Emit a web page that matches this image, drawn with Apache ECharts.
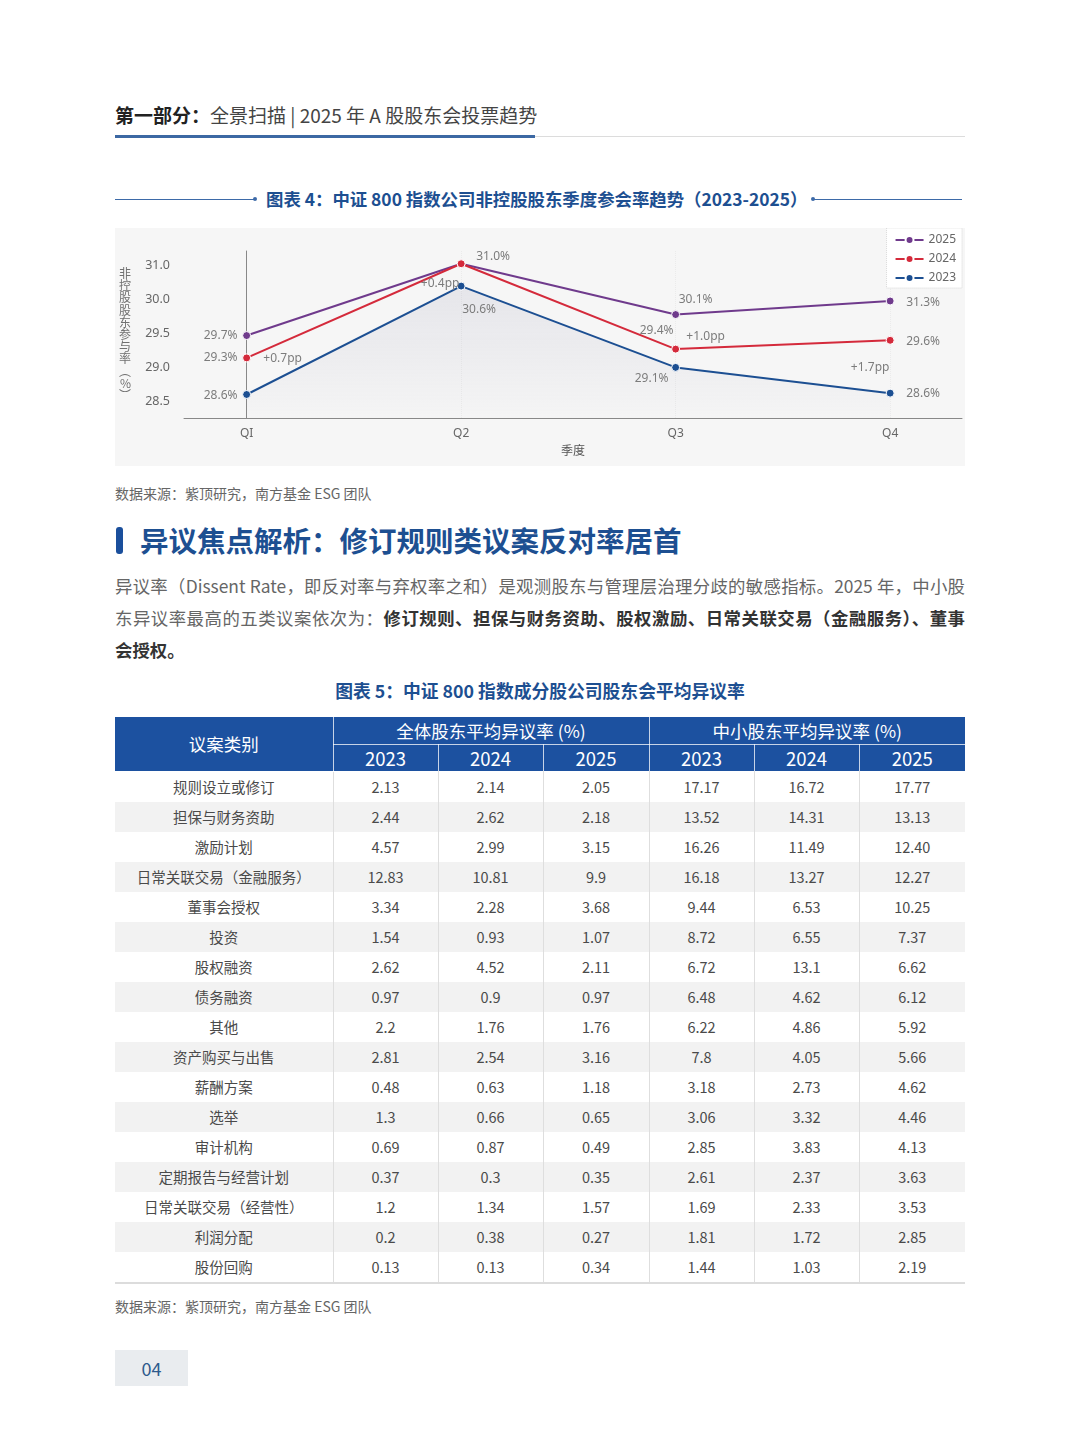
<!DOCTYPE html>
<html>
<head>
<meta charset="utf-8">
<script src="https://cdn.jsdelivr.net/npm/echarts@6.0.0/dist/echarts.min.js"></script>
<style>
  html, body { margin: 0; padding: 0; background: #fff; }
  body { width: 1080px; height: 1455px; position: relative; overflow: hidden;
         font-family: "Noto Sans CJK SC", "Noto Sans", sans-serif; color: #444; }
  .abs { position: absolute; }
  #head { left: 115px; top: 101px; font-size: 19px; color: #444; white-space: nowrap; }
  #head b { color: #222; }
  #headLineBlue { left: 115px; top: 135px; width: 420px; height: 3px; background: #3c68a3; }
  #headLineGray { left: 535px; top: 136px; width: 430px; height: 1px; background: #dcdcdc; }
  .ctitle { color: #1d4f91; font-weight: bold; font-size: 17.4px; white-space: nowrap; }
  .tline { height: 1px; background: #3d6aa8; }
  .tdot { width: 4px; height: 4px; border-radius: 2px; background: #3d6aa8; }
  #chartBox { left: 115px; top: 228px; width: 850px; height: 238px; background: #f6f6f6; }
  #chart { width: 850px; height: 238px; }
  .src { left: 115px; font-size: 14px; color: #666; white-space: nowrap; }
  #secBar { left: 116px; top: 527px; width: 7px; height: 27px; border-radius: 3px; background: #1a4f9c; }
  #secTitle { left: 140px; top: 520px; font-size: 28.5px; font-weight: bold; color: #1d4f91; white-space: nowrap; line-height: 40px; }
  #para { left: 115px; top: 570px; width: 850px; font-size: 17.4px; color: #666; line-height: 32px; }
  #para div { text-align: justify; text-align-last: justify; height: 32px; white-space: nowrap; }
  #para div.last { text-align-last: left; }
  #para b { color: #333; }
  #tbl { left: 115px; top: 717px; width: 850px; border-collapse: collapse; table-layout: fixed; }
  #tbl th { background: #1c51a0; color: #fff; font-weight: normal; padding: 0; text-align: center;
            border: 1px solid rgba(255,255,255,0.75); border-top: none; }
  #tbl tr.h1 th { height: 27px; font-size: 17.5px; }
  #tbl tr.h2 th { height: 26px; font-size: 18.5px; border-bottom: none; }
  #tbl th.first { font-size: 17.5px; border-left: none; }
  #tbl th.lastc { border-right: none; }
  #tbl td { height: 30px; padding: 0; text-align: center; font-size: 14.5px; color: #4a4a4a;
            border-left: 1px solid #dedede; border-right: 1px solid #dedede; }
  #tbl td:first-child { border-left: none; }
  #tbl td:last-child { border-right: none; }
  #tbl tr.alt td { background: #f2f2f2; }
  #tbl tr.end td { border-bottom: 2px solid #dcdcdc; }
  #pageNo { left: 115px; top: 1350px; width: 73px; height: 36px; background: #e9ecef;
            color: #2d5a8c; font-size: 18px; text-align: center; line-height: 36px; }
</style>
</head>
<body>
<div id="head" class="abs"><b>第一部分：</b>全景扫描 | 2025 年 A 股股东会投票趋势</div>
<div id="headLineBlue" class="abs"></div>
<div id="headLineGray" class="abs"></div>

<div class="abs tline" style="left:115px;top:199px;width:140px;"></div>
<div class="abs tdot" style="left:253px;top:197px;"></div>
<div class="abs ctitle" style="left:266px;top:186px;">图表 4：中证 800 指数公司非控股股东季度参会率趋势（2023-2025）</div>
<div class="abs tdot" style="left:811px;top:197px;"></div>
<div class="abs tline" style="left:813px;top:199px;width:149px;"></div>

<div id="chartBox" class="abs"><div id="chart"></div></div>
<div class="abs src" style="top:483px;">数据来源：紫顶研究，南方基金 ESG 团队</div>

<div id="secBar" class="abs"></div>
<div id="secTitle" class="abs">异议焦点解析：修订规则类议案反对率居首</div>
<div id="para" class="abs">
  <div>异议率（Dissent Rate，即反对率与弃权率之和）是观测股东与管理层治理分歧的敏感指标。2025 年，中小股</div>
  <div>东异议率最高的五类议案依次为：<b>修订规则、担保与财务资助、股权激励、日常关联交易（金融服务）、董事</b></div>
  <div class="last"><b>会授权。</b></div>
</div>

<div class="abs ctitle" style="left:0;width:1080px;text-align:center;top:677px;font-size:17.8px;">图表 5：中证 800 指数成分股公司股东会平均异议率</div>
<table id="tbl" class="abs"></table>
<div class="abs src" style="top:1296px;">数据来源：紫顶研究，南方基金 ESG 团队</div>
<div id="pageNo" class="abs">04</div>

<script>
// ---- 图表4 数据 ----
var quarters = ['QI', 'Q2', 'Q3', 'Q4'];
var yTickValues = [28.5, 29.0, 29.5, 30.0, 30.5];
var yTickLabels = ['28.5', '29.0', '29.5', '30.0', '31.0'];
// 点在坐标轴上的位置（按刻度读取）
var pos2025 = [29.47, 30.53, 29.78, 29.98];
var pos2024 = [29.14, 30.53, 29.27, 29.40];
var pos2023 = [28.60, 30.20, 29.00, 28.62];
// 数据标签文字
var lbl2025 = ['29.7%', '31.0%', '30.1%', '31.3%'];
var lbl2024 = ['29.3%', '', '29.4%', '29.6%'];
var lbl2023 = ['28.6%', '30.6%', '29.1%', '28.6%'];
var gapLabels = ['+0.7pp', '+0.4pp', '+1.0pp', '+1.7pp'];

// ---- 图表5 数据 ----
var categories = ['规则设立或修订', '担保与财务资助', '激励计划', '日常关联交易（金融服务）', '董事会授权', '投资',
  '股权融资', '债务融资', '其他', '资产购买与出售', '薪酬方案', '选举', '审计机构', '定期报告与经营计划',
  '日常关联交易（经营性）', '利润分配', '股份回购'];
var years = ['2023', '2024', '2025'];
var all2023 = ['2.13', '2.44', '4.57', '12.83', '3.34', '1.54', '2.62', '0.97', '2.2', '2.81', '0.48', '1.3', '0.69', '0.37', '1.2', '0.2', '0.13'];
var all2024 = ['2.14', '2.62', '2.99', '10.81', '2.28', '0.93', '4.52', '0.9', '1.76', '2.54', '0.63', '0.66', '0.87', '0.3', '1.34', '0.38', '0.13'];
var all2025 = ['2.05', '2.18', '3.15', '9.9', '3.68', '1.07', '2.11', '0.97', '1.76', '3.16', '1.18', '0.65', '0.49', '0.35', '1.57', '0.27', '0.34'];
var minor2023 = ['17.17', '13.52', '16.26', '16.18', '9.44', '8.72', '6.72', '6.48', '6.22', '7.8', '3.18', '3.06', '2.85', '2.61', '1.69', '1.81', '1.44'];
var minor2024 = ['16.72', '14.31', '11.49', '13.27', '6.53', '6.55', '13.1', '4.62', '4.86', '4.05', '2.73', '3.32', '3.83', '2.37', '2.33', '1.72', '1.03'];
var minor2025 = ['17.77', '13.13', '12.40', '12.27', '10.25', '7.37', '6.62', '6.12', '5.92', '5.66', '4.62', '4.46', '4.13', '3.63', '3.53', '2.85', '2.19'];

// 标签偏移（相对数据点）
var off2025 = [[-26, 0], [32, -7], [20, -15], [33, 2]];
var off2024 = [[-26, 0], [0, 0], [-19, -19], [33, 1]];
var off2023 = [[-26, 1], [18, 23], [-24, 11], [33, 0]];
var offGap = [[36, 1], [-21, 20], [30, -13], [-20, 27]];

var labelFont = { fontSize: 12, color: '#7c7c7c', fontFamily: 'Noto Sans' };

function buildData(pos, lbl, off) {
  return pos.map(function (v, i) {
    return {
      value: [i, v],
      label: Object.assign({ show: lbl[i] !== '', position: 'inside', offset: off[i],
        formatter: lbl[i] }, labelFont)
    };
  });
}

function lineSeries(name, color, pos, lbl, off) {
  return {
    name: name, type: 'line', data: buildData(pos, lbl, off),
    symbol: 'circle', symbolSize: 8,
    lineStyle: { width: 2, color: color },
    itemStyle: { color: color, borderColor: '#fff', borderWidth: 1 },
    emphasis: { disabled: true }
  };
}

var s2025 = lineSeries('2025', '#6f3a8c', pos2025, lbl2025, off2025);
var s2024 = lineSeries('2024', '#d42a3b', pos2024, lbl2024, off2024);
var s2023 = lineSeries('2023', '#1c4f92', pos2023, lbl2023, off2023);
s2023.z = 1;
s2023.areaStyle = {
  origin: 'start',
  color: new echarts.graphic.LinearGradient(0, 0, 0, 1, [
    { offset: 0, color: 'rgba(140,140,170,0.22)' },
    { offset: 1, color: 'rgba(140,140,170,0.02)' }
  ])
};
s2024.markPoint = {
  symbol: 'circle', symbolSize: 1,
  itemStyle: { color: 'rgba(0,0,0,0)' },
  data: gapLabels.map(function (t, i) {
    return { name: t, coord: [i, pos2024[i]],
      label: Object.assign({ show: true, position: 'inside', offset: offGap[i], formatter: t }, labelFont) };
  })
};

var myChart = echarts.init(document.getElementById('chart'));
var option = {
  animation: false,
  textStyle: { fontFamily: 'Noto Sans, Noto Sans CJK SC' },
  grid: { left: 69, right: 3, top: 23, bottom: 48, outerBoundsMode: 'none', containLabel: false },
  legend: {
    orient: 'vertical', right: 3, top: 0,
    data: ['2025', '2024', '2023'],
    itemWidth: 28, itemHeight: 10, itemGap: 7,
    padding: [6, 6, 4, 8],
    backgroundColor: '#fff', borderColor: '#d8d8d8', borderWidth: 1, borderType: 'dotted',
    textStyle: { fontSize: 12, color: '#666' }
  },
  xAxis: {
    type: 'value', min: -0.292, max: 3.335,
    name: '季度', nameLocation: 'middle', nameGap: 24,
    nameTextStyle: { fontSize: 12, color: '#555', fontFamily: 'Noto Sans CJK SC' },
    axisLine: { show: true, lineStyle: { color: '#888' } },
    axisTick: { show: false, customValues: [0, 1, 2, 3] },
    axisLabel: { customValues: [0, 1, 2, 3], margin: 10, fontSize: 12, color: '#666',
      formatter: function (v) { return quarters[Math.round(v)]; } },
    splitLine: { show: true, lineStyle: { color: '#ebebeb', width: 1, type: 'dotted' } }
  },
  yAxis: {
    type: 'value', min: 28.253, max: 30.718,
    name: '非\n控\n股\n股\n东\n参\n与\n率\n︵\n%\n︶', nameLocation: 'middle', nameGap: 53, nameRotate: 0,
    nameTextStyle: { fontSize: 12, lineHeight: 12.2, color: '#707070', fontFamily: 'Noto Sans CJK SC' },
    axisLine: { show: true, lineStyle: { color: '#888' } },
    axisTick: { show: false, customValues: yTickValues },
    axisLabel: { customValues: yTickValues, margin: 14, fontSize: 12.5, color: '#666',
      formatter: function (v) {
        var i = yTickValues.indexOf(Math.round(v * 10) / 10);
        return i >= 0 ? yTickLabels[i] : '';
      } },
    splitLine: { show: false }
  },
  series: [s2023, s2025, s2024]
};
myChart.setOption(option);

// ---- 表格 ----
var html = '<colgroup><col style="width:218px">';
for (var c = 0; c < 6; c++) html += '<col style="width:' + (c === 2 || c === 5 ? 106 : 105) + 'px">';
html += '</colgroup>';
html += '<tr class="h1"><th class="first" rowspan="2">议案类别</th><th colspan="3">全体股东平均异议率 (%)</th><th class="lastc" colspan="3">中小股东平均异议率 (%)</th></tr>';
html += '<tr class="h2">';
years.concat(years).forEach(function (y, i) {
  html += '<th' + (i === 5 ? ' class="lastc"' : '') + '>' + y + '</th>';
});
html += '</tr>';
var cols = [all2023, all2024, all2025, minor2023, minor2024, minor2025];
categories.forEach(function (name, r) {
  var cls = [];
  if (r % 2 === 1) cls.push('alt');
  if (r === categories.length - 1) cls.push('end');
  html += '<tr class="' + cls.join(' ') + '"><td>' + name + '</td>';
  cols.forEach(function (col) { html += '<td>' + col[r] + '</td>'; });
  html += '</tr>';
});
document.getElementById('tbl').innerHTML = html;
</script>
</body>
</html>
